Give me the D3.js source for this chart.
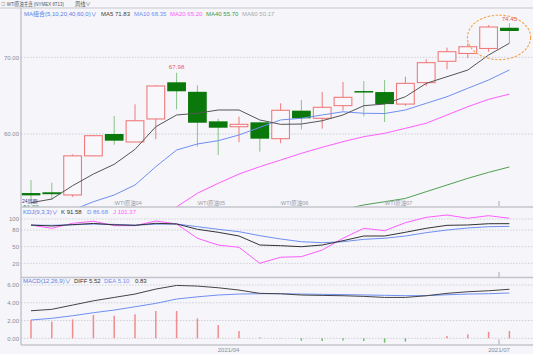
<!DOCTYPE html>
<html>
<head>
<meta charset="utf-8">
<script src="https://cdn.jsdelivr.net/npm/d3@7"></script>
<style>
  html, body { margin: 0; padding: 0; background: #f5f5fa; }
  svg { display: block; font-family: "Liberation Sans", Arial, "Noto Sans CJK SC", sans-serif; }
  .axis .tick text { fill: #8a8a94; font-size: 6px; }
  .grid line { stroke: #cfcfd8; stroke-dasharray: 1.5 1.5; }
</style>
</head>
<body>
<svg id="chart" width="533" height="354"></svg>
<script>
// weekly bars, WTI main contract
const weeks = ['2021-01-25','2021-02-01','2021-02-08','2021-02-15','2021-02-22','2021-03-01','2021-03-08','2021-03-15',
  '2021-03-22','2021-03-29','2021-04-05','2021-04-12','2021-04-19','2021-04-26','2021-05-03','2021-05-10',
  '2021-05-17','2021-05-24','2021-05-31','2021-06-07','2021-06-14','2021-06-21','2021-06-28','2021-07-05'];
const open  = [52.30, 52.40, 52.05, 57.15, 60.00, 58.96, 61.96, 66.74, 65.50, 61.65, 60.95, 61.52,
  59.39, 63.04, 62.05, 63.70, 65.60, 65.47, 63.90, 66.70, 69.48, 70.50, 71.15, 73.85];
const high  = [54.00, 53.65, 57.35, 59.80, 62.35, 63.87, 66.35, 67.98, 66.35, 62.00, 62.26, 61.60,
  64.00, 64.43, 65.50, 66.78, 66.90, 67.04, 67.47, 69.74, 71.26, 71.80, 74.20, 74.45];
const low   = [51.20, 51.40, 51.80, 57.10, 58.60, 58.96, 59.30, 63.20, 58.35, 57.25, 58.92, 57.70,
  58.80, 60.60, 60.70, 63.04, 62.30, 61.56, 63.65, 66.26, 68.43, 69.90, 70.73, 71.85];
const close = [52.00, 52.15, 57.15, 59.78, 59.13, 61.73, 66.26, 65.57, 61.47, 60.82, 61.26, 59.39,
  63.09, 62.05, 63.48, 64.78, 65.45, 63.90, 66.60, 69.30, 70.73, 71.38, 73.95, 73.43];

const ma5  = [51.04, 51.52, 53.26, 54.78, 56.05, 58.00, 60.95, 62.48, 62.70, 63.13, 63.13, 61.83,
  61.26, 61.30, 61.73, 62.48, 63.69, 63.91, 64.86, 66.60, 67.47, 68.34, 70.30, 71.83];
const ma10 = [null, null, 50.09, 51.17, 52.05, 53.35, 55.74, 57.91, 58.70, 59.13, 59.87, 60.87,
  61.83, 62.05, 62.48, 62.90, 62.70, 62.67, 63.13, 64.00, 64.86, 65.96, 67.04, 68.35];
const ma20 = [null, null, null, null, null, null, 48.90, 50.50, 52.27, 53.57, 54.78, 55.74,
  56.60, 57.48, 58.27, 59.00, 59.65, 60.09, 60.74, 61.40, 62.48, 63.56, 64.52, 65.20];
const ma40 = [null, null, null, null, null, null, null, null, null, null, null, null,
  null, null, null, 50.15, 50.75, 51.17, 51.60, 52.48, 53.35, 54.22, 55.00, 55.70];
const ma60 = [null, null, null, null, null, null, null, null, null, null, null, null,
  null, null, null, null, null, null, null, null, 49.95, 50.02, 50.10, 50.17];

const kVal = [89.0, 87.4, 89.8, 92.0, 89.5, 88.6, 92.2, 91.0, 81.4, 76.0, 69.3, 53.0,
  51.8, 50.0, 53.0, 60.8, 69.3, 69.3, 76.0, 83.2, 88.6, 89.2, 91.5, 91.58];
const dVal = [89.0, 88.6, 89.6, 90.8, 90.3, 88.8, 90.6, 91.0, 86.1, 81.4, 77.1, 69.9,
  63.9, 59.0, 57.2, 59.0, 63.3, 65.2, 69.3, 75.3, 80.1, 83.8, 86.1, 86.68];
const jVal = [89.0, 83.2, 92.2, 96.0, 88.0, 88.0, 96.4, 91.0, 65.2, 53.0, 48.9, 20.0,
  30.9, 32.0, 44.0, 65.2, 83.2, 78.9, 93.3, 103.0, 107.2, 101.3, 106.0, 101.37];

const diff = [3.10, 3.26, 3.74, 4.22, 4.60, 4.98, 5.54, 5.95, 5.88, 5.69, 5.43, 5.06,
  5.01, 4.87, 4.83, 4.79, 4.72, 4.60, 4.60, 4.79, 5.06, 5.24, 5.35, 5.52];
const dea  = [2.06, 2.25, 2.54, 2.88, 3.18, 3.55, 3.93, 4.42, 4.67, 4.87, 4.98, 5.02,
  5.02, 4.98, 4.95, 4.92, 4.88, 4.84, 4.80, 4.80, 4.90, 4.98, 5.02, 5.10];
const macd = [2.06, 1.87, 2.13, 2.62, 2.54, 2.70, 3.07, 3.07, 2.25, 1.49, 0.82, 0.11,
  0.03, -0.27, -0.30, -0.25, -0.30, -0.49, -0.37, -0.02, 0.26, 0.45, 0.74, 0.83];

const rollWeeks = ['2021-02-22', '2021-03-22', '2021-04-19', '2021-05-24'];
const rollNames = ['WTI原油04', 'WTI原油05', 'WTI原油06', 'WTI原油07'];
const monthLabels = ['2021/04', '2021/07'];
const markMonth = '2021/07';

const
  svg = d3.select('#chart'),
  left = 21,
  right = 533,
  red = '#f07b7b',
  green = '#0a780a',
  greenWick = '#88c488',
  blue = '#6f8ff0',
  pink = '#ff5cff',
  last = weeks.length - 1
  ;

const x = d3.scaleBand().domain(weeks).range([20.6, 519.8]).paddingInner(0.1).paddingOuter(0.05);
const cx = w => x(w) + x.bandwidth() / 2;
const yMain = d3.scaleLinear().domain([60, 70]).range([134, 57.3]);
const yKdj  = d3.scaleLinear().domain([20, 100]).range([263.3, 219]);
const yMacd = d3.scaleLinear().domain([0, 6]).range([338.3, 285]);

const panels = [
  {id: 'main', top: 8, bottom: 207, y: yMain, ticks: [60, 70], fmt: d3.format('.2f')},
  {id: 'kdj', top: 207, bottom: 277.5, y: yKdj, ticks: [20, 50, 80, 100], fmt: d3.format('d')},
  {id: 'macd', top: 277.5, bottom: 345, y: yMacd, ticks: [0, 2, 4, 6], fmt: d3.format('.2f')}
];

const defs = svg.append('defs');
panels.forEach(p => {
  defs.append('clipPath').attr('id', `clip-${p.id}`)
    .append('rect').attr('x', left + 0.5).attr('y', p.top + 0.5)
    .attr('width', right - left).attr('height', p.bottom - p.top - 1);

  svg.append('g').attr('class', 'grid')
    .selectAll('line').data(p.ticks).join('line')
    .attr('x1', left).attr('x2', right)
    .attr('y1', d => p.y(d)).attr('y2', d => p.y(d));

  svg.append('g').attr('class', 'axis')
    .attr('transform', `translate(${left - 1},0)`)
    .call(d3.axisLeft(p.y).tickValues(p.ticks).tickSize(0).tickPadding(1).tickFormat(p.fmt))
    .call(g => g.select('.domain').remove());
});

// frame
svg.append('line').attr('x1', 0).attr('x2', right).attr('y1', 8).attr('y2', 8)
  .attr('stroke', '#c8c8d0').attr('stroke-width', 1.2);
[207, 277.5, 345].forEach(yy => svg.append('line')
  .attr('x1', left).attr('x2', right).attr('y1', yy).attr('y2', yy)
  .attr('stroke', '#c4c4cc').attr('stroke-width', 1.5));
svg.append('line').attr('x1', left).attr('x2', left).attr('y1', 8).attr('y2', 345)
  .attr('stroke', '#c4c4cc').attr('stroke-width', 1.5);

// month ticks + labels
const monthOf = w => w.slice(0, 7).replace('-', '/');
const monthStarts = weeks
  .map((w, i) => ({w, i, m: monthOf(w)}))
  .filter(d => d.i > 0 && d.m !== monthOf(weeks[d.i - 1]) && monthLabels.includes(d.m))
  .map(d => ({m: d.m, xx: cx(d.w) - x.step() / 2}));

svg.append('g').selectAll('text').data(monthStarts).join('text')
  .attr('x', d => d.xx).attr('y', 352).attr('text-anchor', 'middle')
  .attr('font-size', 6).attr('fill', '#8a8a94').text(d => d.m);

monthStarts.filter(d => d.m === markMonth).forEach(d => {
  [[201, 206], [272, 277], [339.5, 344.5]].forEach(([a, b]) => svg.append('line')
    .attr('x1', d.xx).attr('x2', d.xx).attr('y1', a).attr('y2', b)
    .attr('stroke', '#a8a8b0').attr('stroke-width', 1));
});

// ---- main panel
const gMain = svg.append('g').attr('clip-path', 'url(#clip-main)');
const bars = weeks.map((w, i) => ({w, o: open[i], h: high[i], l: low[i], c: close[i], up: close[i] >= open[i]}));

gMain.append('g').selectAll('line').data(bars).join('line')
  .attr('x1', d => cx(d.w)).attr('x2', d => cx(d.w))
  .attr('y1', d => yMain(d.h)).attr('y2', d => yMain(d.l))
  .attr('stroke', d => d.up ? red : greenWick).attr('stroke-width', 1);

gMain.append('g').selectAll('rect').data(bars).join('rect')
  .attr('x', d => x(d.w) + (d.up ? 0.5 : 0))
  .attr('width', d => x.bandwidth() - (d.up ? 1 : 0))
  .attr('y', d => yMain(Math.max(d.o, d.c)))
  .attr('height', d => Math.max(1.5, Math.abs(yMain(d.o) - yMain(d.c))))
  .attr('fill', d => d.up ? '#f8f8fc' : green)
  .attr('stroke', d => d.up ? red : 'none')
  .attr('stroke-width', 1.1);

const maLine = d3.line().defined(d => d != null).x((d, i) => cx(weeks[i])).y(d => yMain(d));
[[ma60, '#aaaaaa'], [ma40, '#4f9f4f'], [ma20, pink], [ma10, blue], [ma5, '#555555']].forEach(([arr, col]) =>
  gMain.append('path').datum(arr).attr('d', maLine)
    .attr('fill', 'none').attr('stroke', col).attr('stroke-width', 1));

// extreme labels
const iMax = d3.maxIndex(high.slice(0, 12));
const iMin = d3.minIndex(low);
gMain.append('text').attr('x', cx(weeks[iMax])).attr('y', yMain(high[iMax]) - 3.5)
  .attr('text-anchor', 'middle').attr('font-size', 6.2).attr('fill', '#e85a5a')
  .text(high[iMax].toFixed(2));
gMain.append('text').attr('x', cx(weeks[iMin])).attr('y', yMain(low[iMin]) + 7.5)
  .attr('text-anchor', 'middle').attr('font-size', 6.2).attr('fill', '#3f9a3f')
  .text(low[iMin].toFixed(2));
gMain.append('text').attr('x', cx(weeks[last])).attr('y', yMain(high[last]) - 2)
  .attr('text-anchor', 'middle').attr('font-size', 6.2).attr('fill', '#e85a5a')
  .text(high[last].toFixed(2));

// highlight ring around the last two weeks
const ringTop = yMain(d3.max(high.slice(-2))), ringBot = yMain(d3.min(low.slice(-2)));
svg.append('ellipse')
  .attr('cx', (cx(weeks[last]) + cx(weeks[last - 1])) / 2)
  .attr('cy', (ringTop + ringBot) / 2)
  .attr('rx', x.step() * 1.52)
  .attr('ry', (ringBot - ringTop) / 2 + 8)
  .attr('fill', 'none').attr('stroke', '#f5a444').attr('stroke-width', 1.1)
  .attr('stroke-dasharray', '2.5 1.5');

// contract roll markers
svg.append('g').selectAll('text').data(rollWeeks).join('text')
  .attr('x', d => cx(d) - 1).attr('y', 205)
  .attr('font-size', 5.5).attr('fill', '#9a9aa4')
  .text((d, i) => ':' + rollNames[i]);
svg.append('text').attr('x', 22).attr('y', 202.5).attr('font-size', 5)
  .attr('fill', '#3a3a8a').text('24周期');

// ---- KDJ panel
const gKdj = svg.append('g').attr('clip-path', 'url(#clip-kdj)');
const kdjLine = d3.line().x((d, i) => cx(weeks[i])).y(d => yKdj(d));
[[jVal, pink], [dVal, blue], [kVal, '#333333']].forEach(([arr, col]) =>
  gKdj.append('path').datum(arr).attr('d', kdjLine)
    .attr('fill', 'none').attr('stroke', col).attr('stroke-width', 1));

// ---- MACD panel
const gMacd = svg.append('g').attr('clip-path', 'url(#clip-macd)');
gMacd.append('g').selectAll('rect').data(macd).join('rect')
  .attr('x', (d, i) => cx(weeks[i]) - 0.75).attr('width', 1.5)
  .attr('y', d => yMacd(Math.max(0, d)))
  .attr('height', d => Math.abs(yMacd(d) - yMacd(0)))
  .attr('fill', d => d >= 0 ? '#f28c8c' : '#72bd72');
const macdLine = d3.line().x((d, i) => cx(weeks[i])).y(d => yMacd(d));
[[dea, blue], [diff, '#444444']].forEach(([arr, col]) =>
  gMacd.append('path').datum(arr).attr('d', macdLine)
    .attr('fill', 'none').attr('stroke', col).attr('stroke-width', 1));

// ---- legends
const legend = (yy, items, size = 6) => items.forEach(([tx, xx, col, fit]) => {
  const t = svg.append('text').attr('x', xx).attr('y', yy).attr('font-size', size).attr('fill', col).text(tx);
  if (fit) t.attr('textLength', fit).attr('lengthAdjust', 'spacingAndGlyphs');
});

legend(5.8, [['⇨ WTI原油主连 (NYMEX 6T13)', 1, '#555', 63], ['周线∨', 75, '#555']], 5.2);
legend(16, [
  ['MA组合(5,10,20,40,60,0)∨', 24, '#5a7de6'],
  [`MA5 ${ma5[last].toFixed(2)}`, 101, '#444'],
  [`MA10 ${ma10[last].toFixed(2)}`, 134, blue],
  [`MA20 ${ma20[last].toFixed(2)}`, 170, pink],
  [`MA40 ${ma40[last].toFixed(2)}`, 206, '#3f9a3f'],
  [`MA60 ${ma60[last].toFixed(2)}`, 242, '#aaaaaa']
]);
legend(214, [
  ['KDJ(9,3,3)∨', 23, '#5a7de6'],
  [`K ${kVal[last].toFixed(2)}`, 61, '#333'],
  [`D ${dVal[last].toFixed(2)}`, 87, blue],
  [`J ${jVal[last].toFixed(2)}`, 113, pink]
]);
legend(283, [
  ['MACD(12,26,9)∨', 23, '#5a7de6'],
  [`DIFF ${diff[last].toFixed(2)}`, 74, '#333'],
  [`DEA ${dea[last].toFixed(2)}`, 104, blue],
  [macd[last].toFixed(2), 135, '#333']
]);
</script>
</body>
</html>
